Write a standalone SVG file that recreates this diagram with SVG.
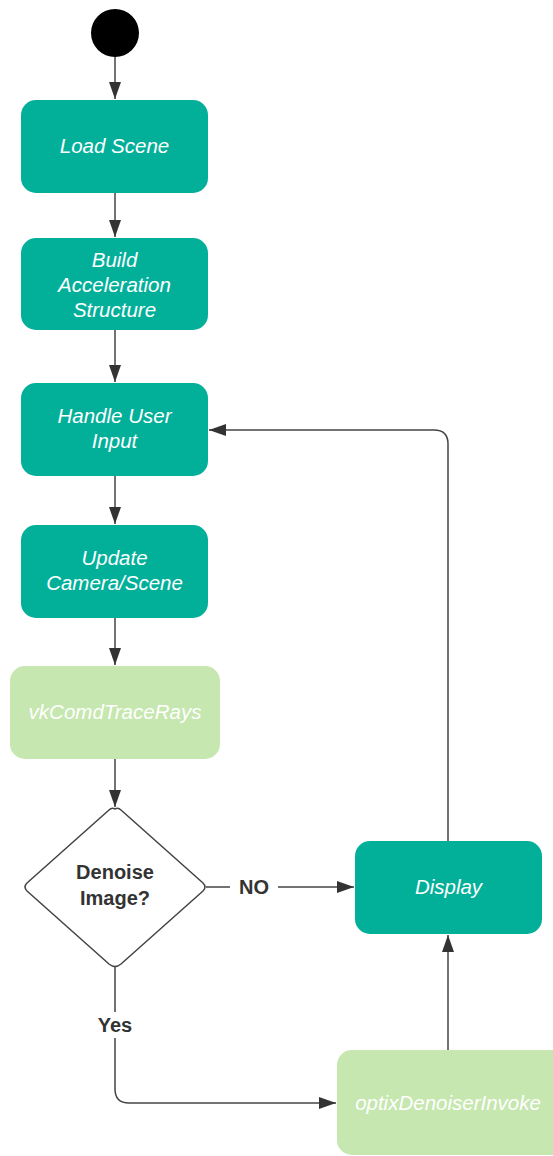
<svg xmlns="http://www.w3.org/2000/svg" width="553" height="1156" viewBox="0 0 553 1156">
  <style>
    .proc { fill: #02b09a; }
    .gpu { fill: #c6e7af; }
    .lbl { font-family: "Liberation Sans", Arial, sans-serif; font-size: 20.5px; font-style: italic; fill: #ffffff; text-anchor: middle; }
    .dec { font-family: "Liberation Sans", Arial, sans-serif; font-size: 20px; font-weight: bold; fill: #333333; text-anchor: middle; }
    .edge { fill: none; stroke: #444444; stroke-width: 1.5; marker-end: url(#arrow); }
    .elbl { font-family: "Liberation Sans", Arial, sans-serif; font-size: 20px; font-weight: bold; fill: #333333; text-anchor: middle; }
  </style>
  <defs>
    <marker id="arrow" viewBox="0 0 17 12" refX="17" refY="6" markerWidth="17" markerHeight="12" markerUnits="userSpaceOnUse" orient="auto">
      <path d="M0,0 L17,6 L0,12 Z" fill="#333333"/>
    </marker>
  </defs>

  <rect width="553" height="1156" fill="#ffffff"/>

  <!-- connectors -->
  <g id="connectors">
    <line class="edge" x1="115" y1="57" x2="115" y2="99"/>
    <line class="edge" x1="115" y1="193" x2="115" y2="237"/>
    <line class="edge" x1="115" y1="330" x2="115" y2="382"/>
    <line class="edge" x1="115" y1="476" x2="115" y2="524"/>
    <line class="edge" x1="115" y1="618" x2="115" y2="665"/>
    <line class="edge" x1="115" y1="759" x2="115" y2="807"/>
    <line class="edge" x1="206" y1="887" x2="354" y2="887"/>
    <path class="edge" d="M448,841 L448,444 Q448,430 434,430 L209,430"/>
    <path class="edge" d="M115,967 L115,1089 Q115,1103 129,1103 L336,1103"/>
    <line class="edge" x1="448" y1="1050" x2="448" y2="935"/>
    <rect x="230" y="875" width="48" height="24" fill="#ffffff"/>
    <text class="elbl" x="254" y="894">NO</text>
    <rect x="92" y="1012" width="46" height="26" fill="#ffffff"/>
    <text class="elbl" x="115" y="1032">Yes</text>
  </g>

  <g id="start">
    <circle cx="115" cy="33" r="24" fill="#000000"/>
  </g>

  <g id="load-scene">
    <rect class="proc" x="21" y="100" width="187" height="93" rx="15"/>
    <text class="lbl" x="114.5" y="153">Load Scene</text>
  </g>

  <g id="build-accel">
    <rect class="proc" x="21" y="238" width="187" height="92" rx="15"/>
    <text class="lbl" x="114.5" y="267">Build</text>
    <text class="lbl" x="114.5" y="292">Acceleration</text>
    <text class="lbl" x="114.5" y="317">Structure</text>
  </g>

  <g id="handle-input">
    <rect class="proc" x="21" y="383" width="187" height="93" rx="15"/>
    <text class="lbl" x="114.5" y="423">Handle User</text>
    <text class="lbl" x="114.5" y="448">Input</text>
  </g>

  <g id="update-camera">
    <rect class="proc" x="21" y="525" width="187" height="93" rx="15"/>
    <text class="lbl" x="114.5" y="565">Update</text>
    <text class="lbl" x="114.5" y="590">Camera/Scene</text>
  </g>

  <g id="trace-rays">
    <rect class="gpu" x="10" y="666" width="210" height="93" rx="15"/>
    <text class="lbl" x="115" y="719">vkComdTraceRays</text>
  </g>

  <g id="denoise-decision">
    <path d="M115,809 Q118,807 121,810 L203,883 Q207,887 203,891 L121,964 Q115,969 109,964 L27,891 Q23,887 27,883 L109,810 Q112,807 115,809 Z" fill="#ffffff" stroke="#444444" stroke-width="1.5"/>
    <text class="dec" x="115" y="879">Denoise</text>
    <text class="dec" x="115" y="905">Image?</text>
  </g>

  <g id="display">
    <rect class="proc" x="355" y="841" width="187" height="93" rx="15"/>
    <text class="lbl" x="448.5" y="894">Display</text>
  </g>

  <g id="optix-denoise">
    <rect class="gpu" x="337" y="1050" width="230" height="105" rx="15"/>
    <text class="lbl" x="448" y="1110">optixDenoiserInvoke</text>
  </g>
</svg>
